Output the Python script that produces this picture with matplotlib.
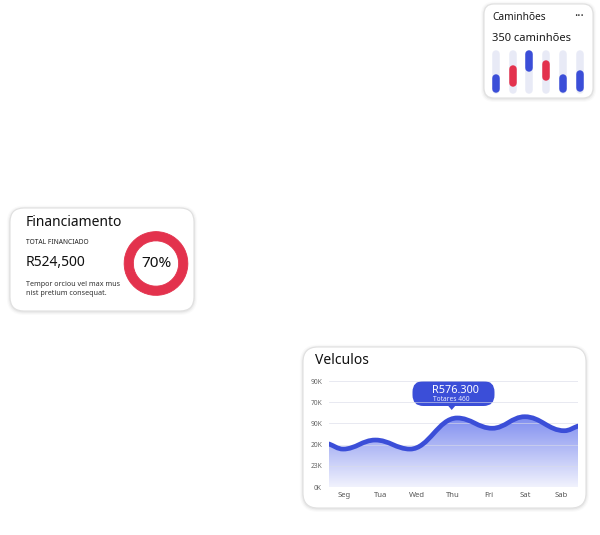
import matplotlib.pyplot as plt
import numpy as np
from matplotlib.patches import FancyBboxPatch, PathPatch, Polygon
from matplotlib.path import Path
from matplotlib.colors import LinearSegmentedColormap

plt.rcParams['font.family'] = ['Noto Sans', 'DejaVu Sans']

W, H = 600, 535
BLUE = '#3b4ed8'
RED = '#e3324d'
TRACK = '#e8eaf6'

# Caminhões card: bar ranges (0-100 of track height)
cam_low = [1, 15, 50, 29, 1, 4]
cam_high = [45, 65, 100, 77, 45, 54]
cam_colors = [BLUE, RED, BLUE, RED, BLUE, BLUE]

# Financiamento card
fin_pct = 70
fin_total = 'R524,500'

# Velculos card: wave key points (x in category units, y in 0-100)
days = ['Seg', 'Tua', 'Wed', 'Thu', 'Fri', 'Sat', 'Sab']
y_ticks = [0, 20, 40, 60, 80, 100]
y_labels = ['0K', '23K', '20K', '90K', '70K', '90K']
wave_x = [-0.42, -0.03, 0.86, 1.82, 3.12, 4.09, 4.99, 6.08, 6.46]
wave_y = [40.6, 35.8, 44.3, 35.8, 65.1, 55.4, 66.3, 53.1, 57.5]


def px_axes(fig, x0, y0, x1, y1, **kw):
    return fig.add_axes([x0 / W, 1 - y1 / H, (x1 - x0) / W, (y1 - y0) / H], **kw)


def card(ax, x0, y0, x1, y1, r):
    # soft shadow then white card
    for i, a in enumerate([0.045, 0.03, 0.02]):
        d = 0.8 + i * 1.2
        ax.add_patch(FancyBboxPatch((x0 - d, y0 - d + 0.8), x1 - x0 + 2 * d, y1 - y0 + 2 * d,
                                    boxstyle=f'round,pad=0,rounding_size={r + d}',
                                    fc='#000000', ec='none', alpha=a))
    ax.add_patch(FancyBboxPatch((x0, y0), x1 - x0, y1 - y0,
                                boxstyle=f'round,pad=0,rounding_size={r}',
                                fc='white', ec='#e0e0e0', lw=0.8))


fig = plt.figure(figsize=(6, 5.35), dpi=100)
ov = fig.add_axes([0, 0, 1, 1])
ov.set_xlim(0, W)
ov.set_ylim(H, 0)
ov.axis('off')

card(ov, 484, 4, 593, 98, 10)
card(ov, 10, 208, 194, 311, 14)
card(ov, 303, 347, 586, 508, 15)

# ---- Caminhões ----
ov.text(492.5, 17.5, 'Caminhões', fontsize=7.3, color='#1a1a1a', va='center')
ov.text(579, 16.5, '···', fontsize=8.5, color='#222', va='center', ha='center', fontweight='bold')
ov.text(492.5, 38.5, '350 caminhões', fontsize=8, color='#1a1a1a', va='center')

axc = px_axes(fig, 487.5, 50, 588, 93.3)
axc.set_xlim(-0.5, 5.5)
axc.set_ylim(0, 100)
axc.axis('off')
r = 8.7
xs = np.arange(len(cam_low))
axc.vlines(xs, r, 100 - r, colors=TRACK, lw=5.4, capstyle='round', clip_on=False)
axc.vlines(xs, np.array(cam_low) + r, np.array(cam_high) - r, colors=cam_colors,
           lw=5.4, capstyle='round', clip_on=False)

# ---- Financiamento ----
ov.text(25.5, 223, 'Financiamento', fontsize=10, color='#111', va='center')
ov.text(25.5, 242.3, 'TOTAL FINANCIADO', fontsize=4.8, color='#222', va='center')
ov.text(25.5, 262.5, fin_total, fontsize=10, color='#111', va='center')
ov.text(25.5, 285, 'Tempor orciou vel max mus', fontsize=5.2, color='#333', va='center')
ov.text(25.5, 293.5, 'nist pretium consequat.', fontsize=5.2, color='#333', va='center')

axd = px_axes(fig, 123.5, 231, 188.5, 296)
axd.pie([fin_pct, 100 - fin_pct], colors=[RED, RED], startangle=90, counterclock=False,
        wedgeprops=dict(width=0.29, linewidth=0.6, edgecolor=RED))
axd.set_xlim(-1.02, 1.02)
axd.set_ylim(-1.02, 1.02)
axd.set_aspect('equal')
axd.text(0, 0, f'{fin_pct}%', fontsize=11, color='#111', ha='center', va='center')

# ---- Velculos ----
ov.text(315, 360, 'Velculos', fontsize=10, color='#111', va='center')

axv = px_axes(fig, 329, 381, 578, 487)
axv.set_xlim(-0.42, 6.46)
axv.set_ylim(0, 100)
for s in axv.spines.values():
    s.set_visible(False)
axv.patch.set_alpha(0)

# smooth curve through key points (horizontal tangents at the extrema)
verts = [(wave_x[0], wave_y[0])]
codes = [Path.MOVETO]
n = len(wave_x)
for i in range(n - 1):
    x0, y0, x1, y1 = wave_x[i], wave_y[i], wave_x[i + 1], wave_y[i + 1]
    dx = x1 - x0
    c1 = (x0 + dx / 3, y0 + (y1 - y0) / 3) if i == 0 else (x0 + dx * 0.4, y0)
    c2 = (x1 - dx / 3, y1 - (y1 - y0) / 3) if i == n - 2 else (x1 - dx * 0.4, y1)
    verts += [c1, c2, (x1, y1)]
    codes += [Path.CURVE4] * 3
curve = Path(verts, codes)
fill_path = Path(verts + [(wave_x[-1], 0), (wave_x[0], 0), (wave_x[0], wave_y[0])],
                 codes + [Path.LINETO, Path.LINETO, Path.CLOSEPOLY])

cmap = LinearSegmentedColormap.from_list('fade', ['#f1f2fd', '#7b8aef'])
grad = np.linspace(0, 1, 256).reshape(-1, 1)
im = axv.imshow(grad, cmap=cmap, origin='lower', aspect='auto',
                extent=[wave_x[0], wave_x[-1], 0, 68], zorder=1)
clip = PathPatch(fill_path, transform=axv.transData, fc='none', ec='none')
axv.add_patch(clip)
im.set_clip_path(clip)
axv.set_xlim(-0.42, 6.46)
axv.set_ylim(0, 100)

axv.set_yticks(y_ticks)
axv.set_yticklabels(y_labels)
axv.set_xticks(range(len(days)))
axv.set_xticklabels(days)
axv.tick_params(axis='y', length=0, pad=5, labelsize=4.8, labelcolor='#666')
axv.tick_params(axis='x', length=0, pad=3.5, labelsize=5.5, labelcolor='#555')
axv.grid(axis='y', color='#d9dbe8', lw=0.6, alpha=0.7, zorder=2)
axv.set_axisbelow(False)
axv.add_patch(PathPatch(curve, fc='none', ec=BLUE, lw=3.4, capstyle='round', zorder=3))

# tooltip
ov.add_patch(FancyBboxPatch((412.5, 381), 82, 25, boxstyle='round,pad=0,rounding_size=11',
                            fc=BLUE, ec='none', zorder=5))
ov.add_patch(Polygon([(447.5, 405), (456, 405), (451.7, 410)], closed=True, fc=BLUE, ec='none', zorder=5))
ov.text(432, 390.5, 'R576.300', fontsize=7.8, color='white', va='center', zorder=6)
ov.text(433, 399.3, 'Totares 460', fontsize=4.8, color='#e6e8ff', va='center', zorder=6)
ov.set_zorder(0)
for a in (axc, axd, axv):
    a.set_zorder(1)

fig.savefig('out.png', dpi=100)
